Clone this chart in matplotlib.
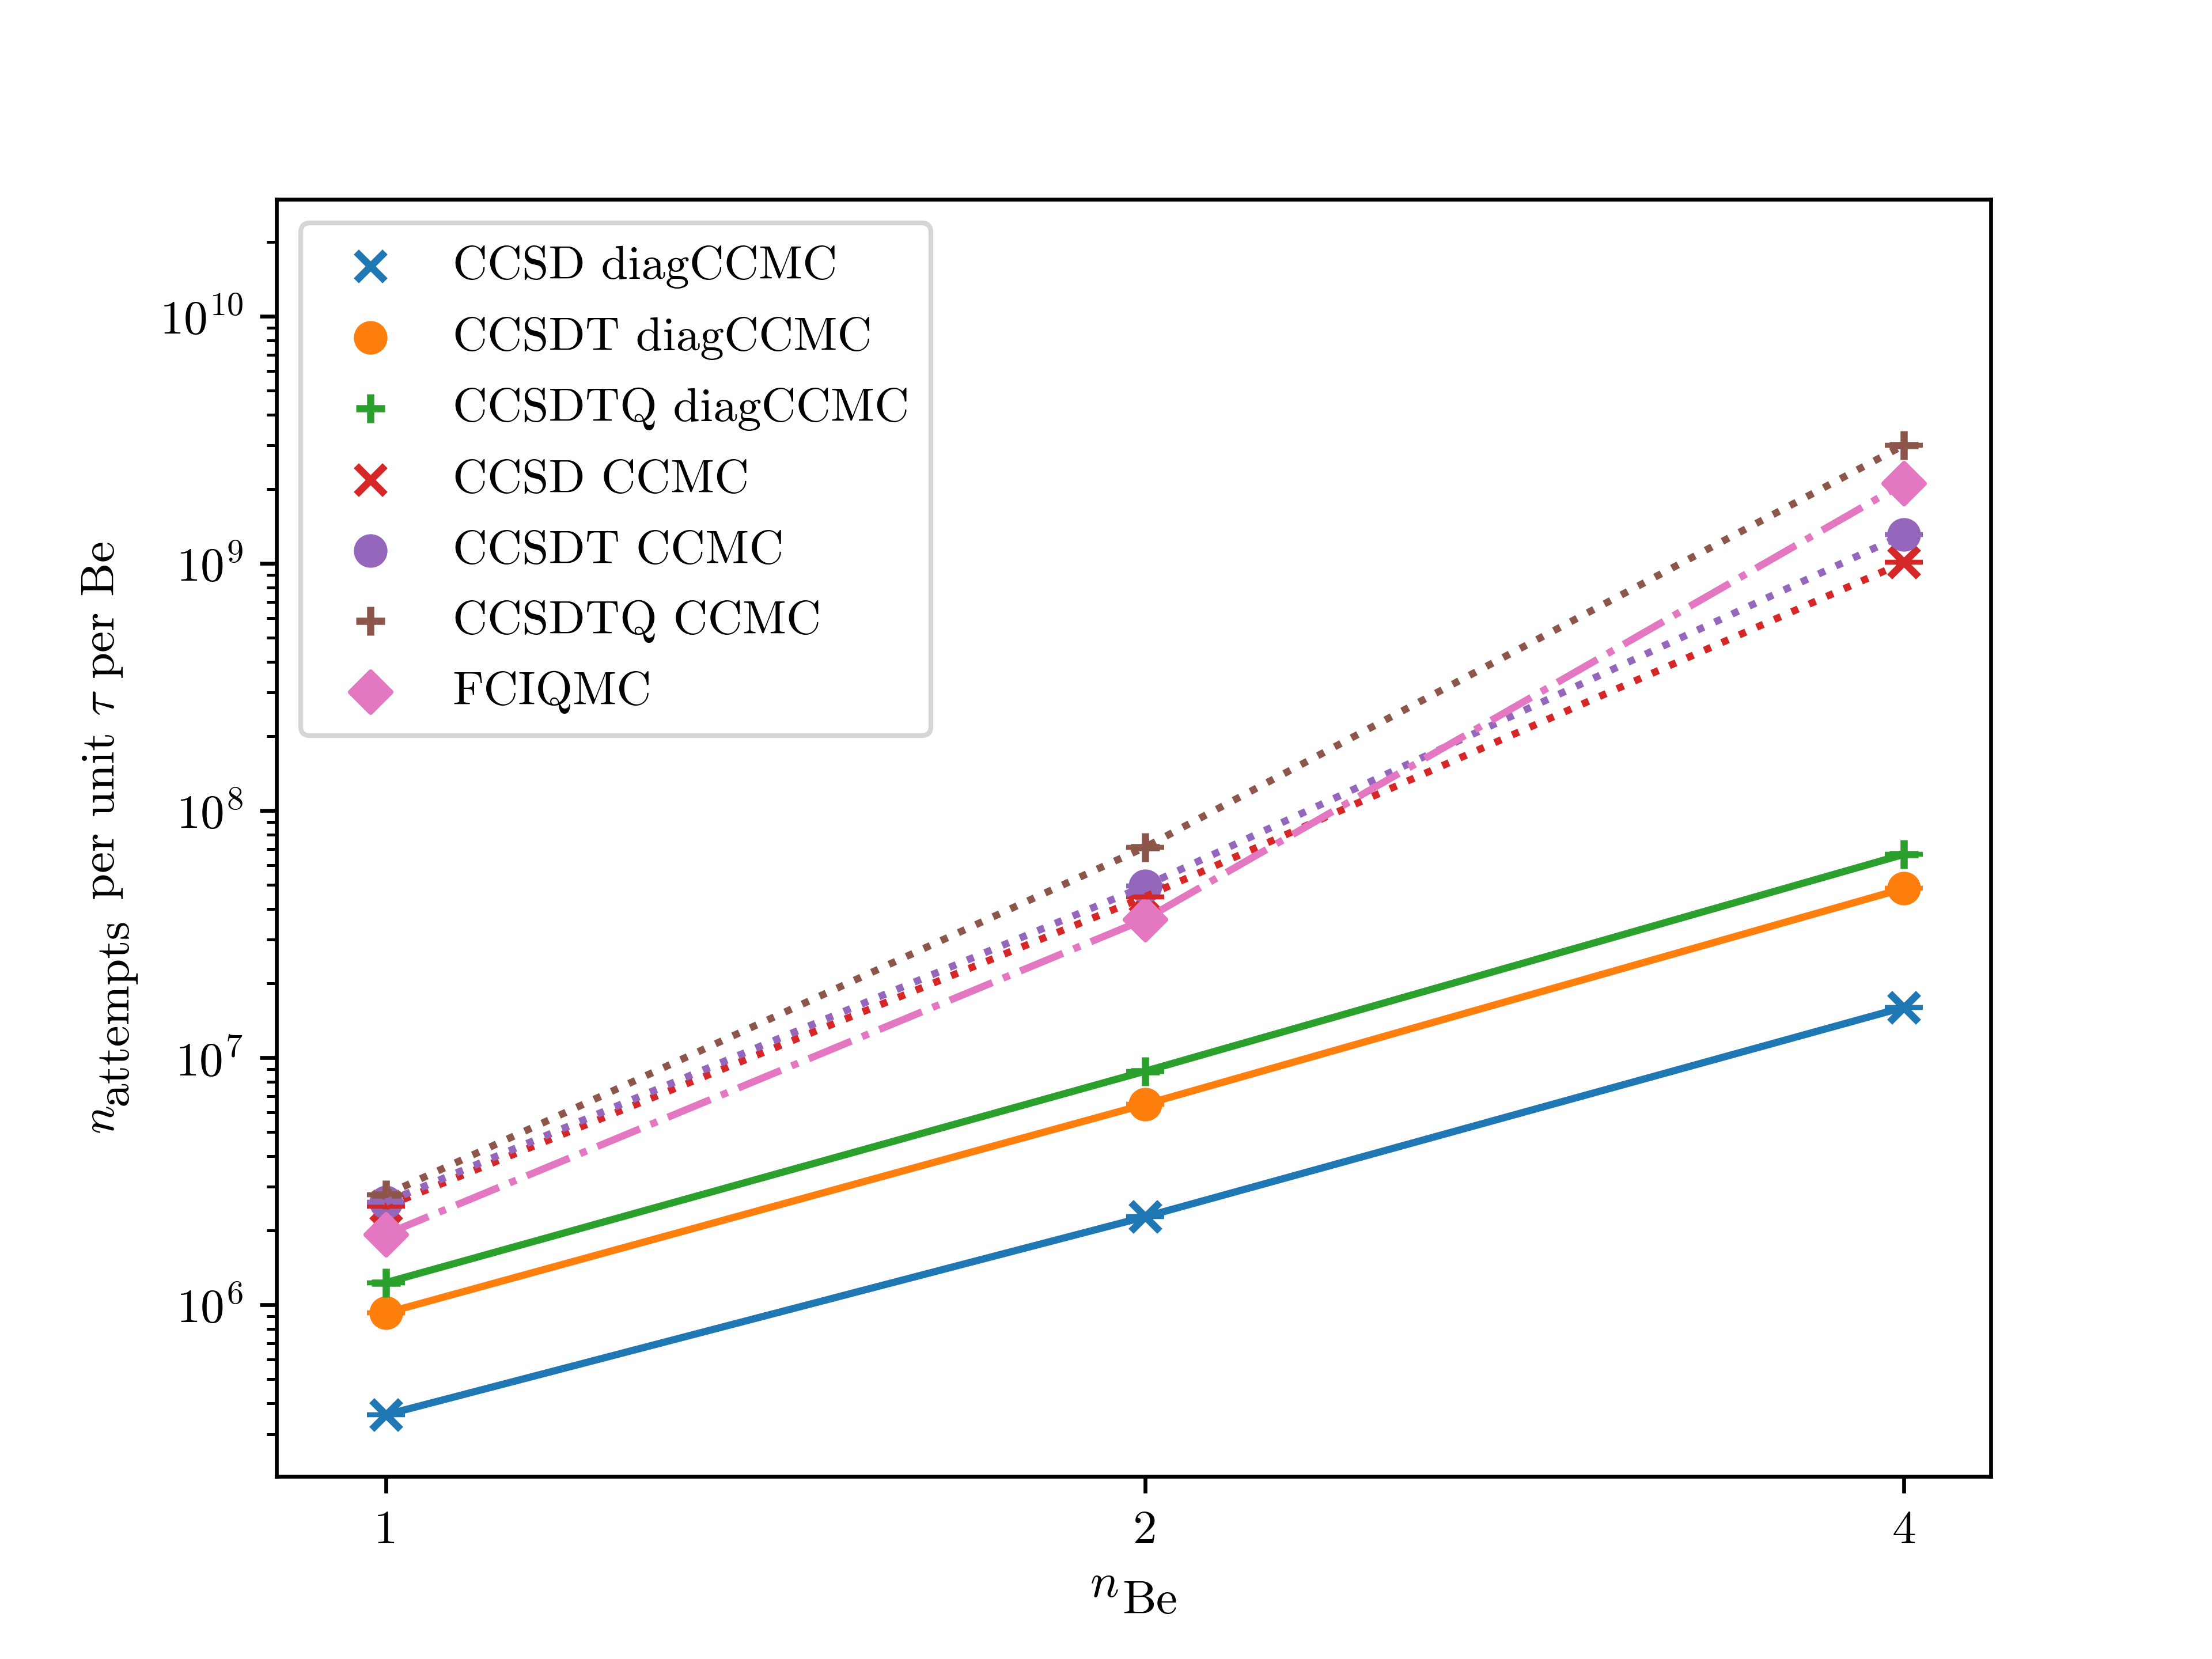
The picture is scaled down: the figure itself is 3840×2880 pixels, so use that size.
import matplotlib
matplotlib.use("Agg")
import matplotlib.pyplot as plt
from matplotlib.ticker import NullLocator, FixedLocator, FixedFormatter

plt.rcParams['font.family'] = 'serif'
plt.rcParams['font.serif'] = ['cmr10']
plt.rcParams['mathtext.fontset'] = 'cm'
plt.rcParams['axes.formatter.use_mathtext'] = True
plt.rcParams['axes.unicode_minus'] = False

n_be = [1, 2, 4]
xtick_labels = ['1', '2', '4']

ccsd_diag = [3.59e5, 2.27e6, 1.60e7]
ccsdt_diag = [9.27e5, 6.47e6, 4.84e7]
ccsdtq_diag = [1.23e6, 8.81e6, 6.65e7]
ccsd_ccmc = [2.50e6, 4.48e7, 1.01e9]
ccsdt_ccmc = [2.60e6, 4.95e7, 1.31e9]
ccsdtq_ccmc = [2.79e6, 7.10e7, 3.01e9]
fciqmc = [1.93e6, 3.63e7, 2.11e9]
err = [0.0, 0.0, 0.0]

series = [
    ("CCSD diagCCMC", ccsd_diag, 'x', '-', 'C0'),
    ("CCSDT diagCCMC", ccsdt_diag, 'o', '-', 'C1'),
    ("CCSDTQ diagCCMC", ccsdtq_diag, '+', '-', 'C2'),
    ("CCSD CCMC", ccsd_ccmc, 'x', ':', 'C3'),
    ("CCSDT CCMC", ccsdt_ccmc, 'o', ':', 'C4'),
    ("CCSDTQ CCMC", ccsdtq_ccmc, '+', ':', 'C5'),
    ("FCIQMC", fciqmc, 'D', '-.', 'C6'),
]

W, H = 3840, 2880
fig, ax = plt.subplots(figsize=(6.4, 4.8), dpi=600)
ax.set_xscale('log')
ax.set_yscale('log')

for label, vals, m, ls, c in series:
    ax.errorbar(n_be, vals, yerr=err, color=c, linestyle=ls, capsize=4)
    ax.scatter(n_be, vals, marker=m, color=c, label=label)

ax.set_xlim(0.905, 4.33)
ax.set_ylim(2.02e5, 2.98e10)
ax.xaxis.set_major_locator(FixedLocator(n_be))
ax.xaxis.set_major_formatter(FixedFormatter(xtick_labels))
ax.xaxis.set_minor_locator(NullLocator())

ax.legend(loc='upper left', labelspacing=0.58, borderpad=0.46,
          handletextpad=0.71)

# Axis labels with full-size (\mbox-style) subscripts, as in the reference
fig.canvas.draw()
renderer = fig.canvas.get_renderer()
pt = fig.dpi / 72.0


def width(s):
    t = fig.text(0, 0, s, fontsize=10)
    w = t.get_window_extent(renderer).width
    t.remove()
    return w


axbox = ax.get_window_extent(renderer)
cx = (axbox.x0 + axbox.x1) / 2
cy = (axbox.y0 + axbox.y1) / 2

# x label: n_Be
w_n = width(r'$n$')
w_be = width('Be')
x0 = cx - (w_n + w_be + 0.8 * pt) / 2
base_n = axbox.y0 - 209
fig.text(x0 / W, base_n / H, r'$n$', fontsize=10, ha='left', va='baseline')
fig.text((x0 + w_n + 0.8 * pt) / W, (base_n - 3.4 * pt) / H, 'Be',
         fontsize=10, ha='left', va='baseline')

# y label: n_attempts per unit tau per Be
w_att = width('attempts')
rest = r' per unit $\tau$ per Be'
w_rest = width(rest)
total = w_n + w_att + 0.5 * pt + w_rest
y0 = cy - total / 2
xb = axbox.x0 - 282
kw = dict(fontsize=10, ha='left', va='baseline', rotation=90,
          rotation_mode='anchor')
fig.text(xb / W, y0 / H, r'$n$', **kw)
fig.text((xb + 2.7 * pt) / W, (y0 + w_n) / H, 'attempts', **kw)
fig.text(xb / W, (y0 + w_n + w_att + 0.5 * pt) / H, rest, **kw)

fig.savefig('out.png', dpi=600)
